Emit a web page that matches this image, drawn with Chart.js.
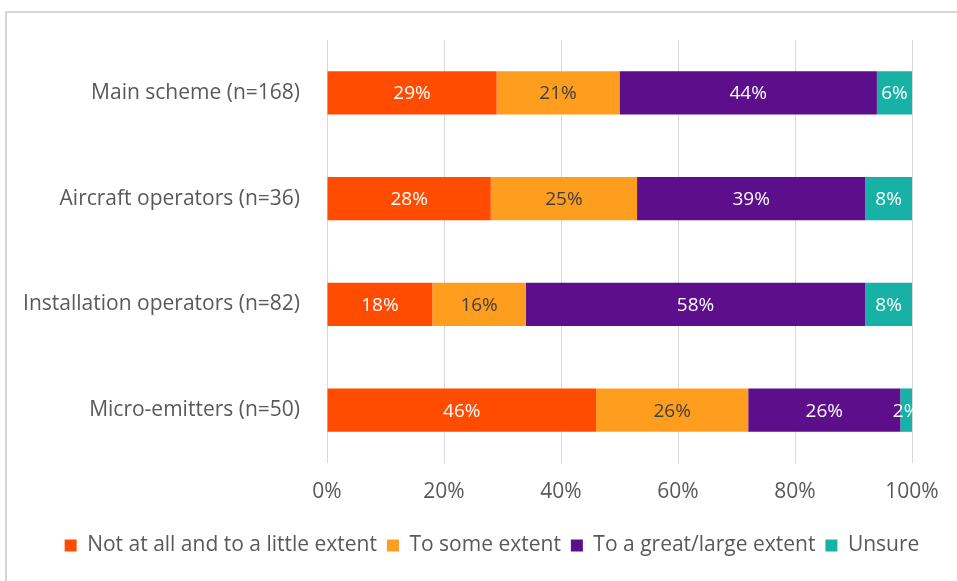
<!DOCTYPE html>
<html>
<head>
<meta charset="utf-8">
<script src="https://cdn.jsdelivr.net/npm/chart.js@4/dist/chart.umd.min.js"></script>
<style>
  html, body { margin: 0; padding: 0; background: #ffffff; }
  #wrap { position: relative; width: 957px; height: 581px; }
  canvas { display: block; }
</style>
</head>
<body>
<div id="wrap"><canvas id="c" width="957" height="581"></canvas></div>
<script>
// Survey groups and response shares (%)
const categories = [
  'Main scheme (n=168)',
  'Aircraft operators (n=36)',
  'Installation operators (n=82)',
  'Micro-emitters (n=50)'
];
const notAtAll   = [29, 28, 18, 46];
const someExtent = [21, 25, 16, 26];
const greatExtent = [44, 39, 58, 26];
const unsure     = [6, 8, 8, 2];
const seriesNames = [
  'Not at all and to a little extent',
  'To some extent',
  'To a great/large extent',
  'Unsure'
];
const xTicks = [0, 20, 40, 60, 80, 100];

const FONT = "'Open Sans', sans-serif";
const colors = ['#FF4C00', '#FF9E1E', '#5C0E8B', '#17B1A6'];
const labelColors = ['#ffffff', '#404040', '#ffffff', '#ffffff'];

// Outer frame around the chart
const framePlugin = {
  id: 'frame',
  beforeDraw(chart) {
    const ctx = chart.ctx;
    ctx.save();
    ctx.fillStyle = '#ffffff';
    ctx.fillRect(0, 0, chart.width, chart.height);
    ctx.strokeStyle = '#d6d6d6';
    ctx.lineWidth = 2;
    ctx.strokeRect(6, 12, chart.width + 20, chart.height + 20);
    ctx.restore();
  }
};

// Nudge the legend so it sits centred under the plot
const legendShift = {
  id: 'legendShift',
  afterLayout(chart) {
    const lg = chart.legend;
    if (lg) { lg.left += 36; lg.right += 36; }
  }
};

// Percentage labels centred in each segment
const valueLabels = {
  id: 'valueLabels',
  afterDatasetsDraw(chart) {
    const ctx = chart.ctx;
    ctx.save();
    ctx.font = '19px ' + FONT;
    ctx.textAlign = 'center';
    ctx.textBaseline = 'middle';
    chart.data.datasets.forEach((ds, di) => {
      const meta = chart.getDatasetMeta(di);
      meta.data.forEach((bar, i) => {
        const v = ds.data[i];
        const x = (bar.x + bar.base) / 2;
        ctx.fillStyle = labelColors[di];
        ctx.fillText(v + '%', x, bar.y + 1);
      });
    });
    ctx.restore();
  }
};

const seriesData = [notAtAll, someExtent, greatExtent, unsure];

new Chart(document.getElementById('c'), {
  type: 'bar',
  data: {
    labels: categories,
    datasets: seriesData.map((d, i) => ({
      label: seriesNames[i],
      data: d,
      backgroundColor: colors[i],
      borderWidth: 0,
      barPercentage: 0.41,
      categoryPercentage: 1.0
    }))
  },
  options: {
    indexAxis: 'y',
    responsive: false,
    animation: false,
    devicePixelRatio: 1,
    layout: { padding: { top: 40, right: 45, bottom: 15, left: 0 } },
    scales: {
      x: {
        stacked: true,
        min: 0,
        max: 100,
        afterBuildTicks(scale) { scale.ticks = xTicks.map(v => ({ value: v })); },
        afterFit(scale) { scale.height = 62; },
        ticks: {
          callback: v => v + '%',
          color: '#595959',
          font: { family: FONT, size: 21 },
          padding: 16
        },
        grid: { color: '#d9d9d9', lineWidth: 1, drawTicks: false },
        border: { display: false }
      },
      y: {
        stacked: true,
        afterFit(scale) { scale.width = 327; },
        ticks: {
          color: '#595959',
          font: { family: FONT, size: 21 },
          padding: 27
        },
        grid: { display: false, drawTicks: false },
        border: { display: false }
      }
    },
    plugins: {
      legend: {
        position: 'bottom',
        labels: {
          color: '#595959',
          font: { family: FONT, size: 21 },
          boxWidth: 12,
          boxHeight: 12,
          padding: 10
        }
      },
      tooltip: { enabled: false }
    }
  },
  plugins: [framePlugin, legendShift, valueLabels]
});
</script>
</body>
</html>
